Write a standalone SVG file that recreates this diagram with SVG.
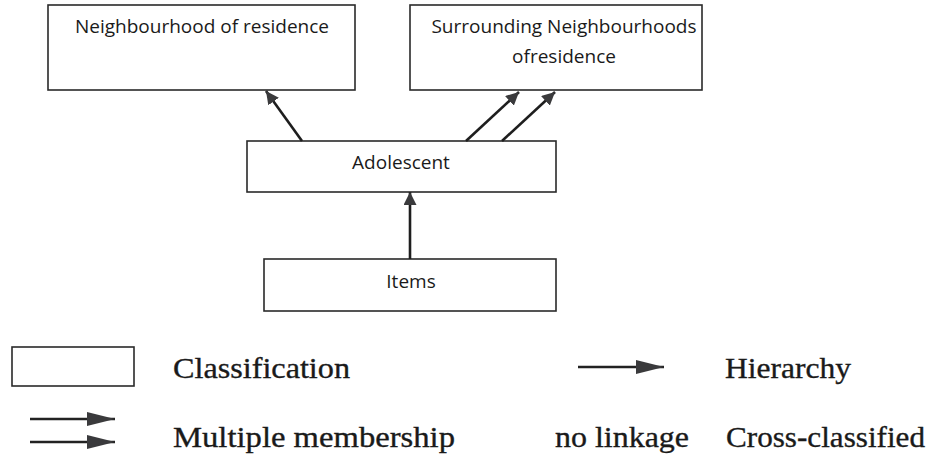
<svg xmlns="http://www.w3.org/2000/svg" width="934" height="456" viewBox="0 0 934 456">
  <style>
    .box { fill: #ffffff; stroke: #2a2a2a; stroke-width: 1.6; }
    .lbl { font-family: "Open Sans", "Liberation Sans", sans-serif; font-size: 19px; fill: #1a1a1a; text-anchor: middle; }
    .leg { font-family: "Liberation Serif", "Times New Roman", serif; font-size: 30px; fill: #1a1a1a; stroke: #1a1a1a; stroke-width: 0.35; }
    .edge { stroke: #1e1e1e; stroke-width: 2.6; fill: none; }
    .legline { stroke: #222222; stroke-width: 2.4; }
  </style>
  <defs>
    <marker id="head" viewBox="0 0 10 10" refX="10" refY="5" markerWidth="5" markerHeight="5" orient="auto" markerUnits="strokeWidth">
      <path d="M0,0 L10,5 L0,10 z" fill="#3a3a3c"/>
    </marker>
    <marker id="legHead" viewBox="0 0 28 14" refX="28" refY="7" markerWidth="28" markerHeight="14" orient="auto" markerUnits="userSpaceOnUse">
      <path d="M0,0 L28,7 L0,14 z" fill="#3a3a3c"/>
    </marker>
  </defs>
  <rect width="934" height="456" fill="#ffffff"/>

  <g id="neighbourhood">
    <rect class="box" x="48" y="5" width="307" height="85"/>
    <text class="lbl" x="202" y="33">Neighbourhood of residence</text>
  </g>
  <g id="surrounding">
    <rect class="box" x="410" y="5" width="292" height="85"/>
    <text class="lbl" x="564" y="33">Surrounding Neighbourhoods</text>
    <text class="lbl" x="564" y="63">ofresidence</text>
  </g>
  <g id="adolescent">
    <rect class="box" x="247" y="141" width="309" height="51"/>
    <text class="lbl" x="401" y="169">Adolescent</text>
  </g>
  <g id="items">
    <rect class="box" x="264" y="259" width="292" height="52"/>
    <text class="lbl" x="411" y="288">Items</text>
  </g>

  <g id="connectors">
    <line class="edge" x1="302" y1="141" x2="266" y2="91" marker-end="url(#head)"/>
    <line class="edge" x1="466" y1="141" x2="519" y2="92" marker-end="url(#head)"/>
    <line class="edge" x1="502" y1="141" x2="555" y2="92" marker-end="url(#head)"/>
    <line class="edge" x1="410" y1="259" x2="410" y2="192" marker-end="url(#head)"/>
  </g>

  <g id="legend">
    <rect class="box" x="12" y="347" width="122" height="39"/>
    <text class="leg" x="173" y="378" textLength="177" lengthAdjust="spacingAndGlyphs">Classification</text>
    <line class="legline" x1="578" y1="367" x2="664" y2="367" marker-end="url(#legHead)"/>
    <text class="leg" x="725" y="378" textLength="126" lengthAdjust="spacingAndGlyphs">Hierarchy</text>
    <line class="legline" x1="30" y1="419" x2="115" y2="419" marker-end="url(#legHead)"/>
    <line class="legline" x1="30" y1="442" x2="115" y2="442" marker-end="url(#legHead)"/>
    <text class="leg" x="173" y="447" textLength="282" lengthAdjust="spacingAndGlyphs">Multiple membership</text>
    <text class="leg" x="555" y="447" textLength="134" lengthAdjust="spacingAndGlyphs">no linkage</text>
    <text class="leg" x="726" y="447" textLength="199" lengthAdjust="spacingAndGlyphs">Cross-classified</text>
  </g>
</svg>
